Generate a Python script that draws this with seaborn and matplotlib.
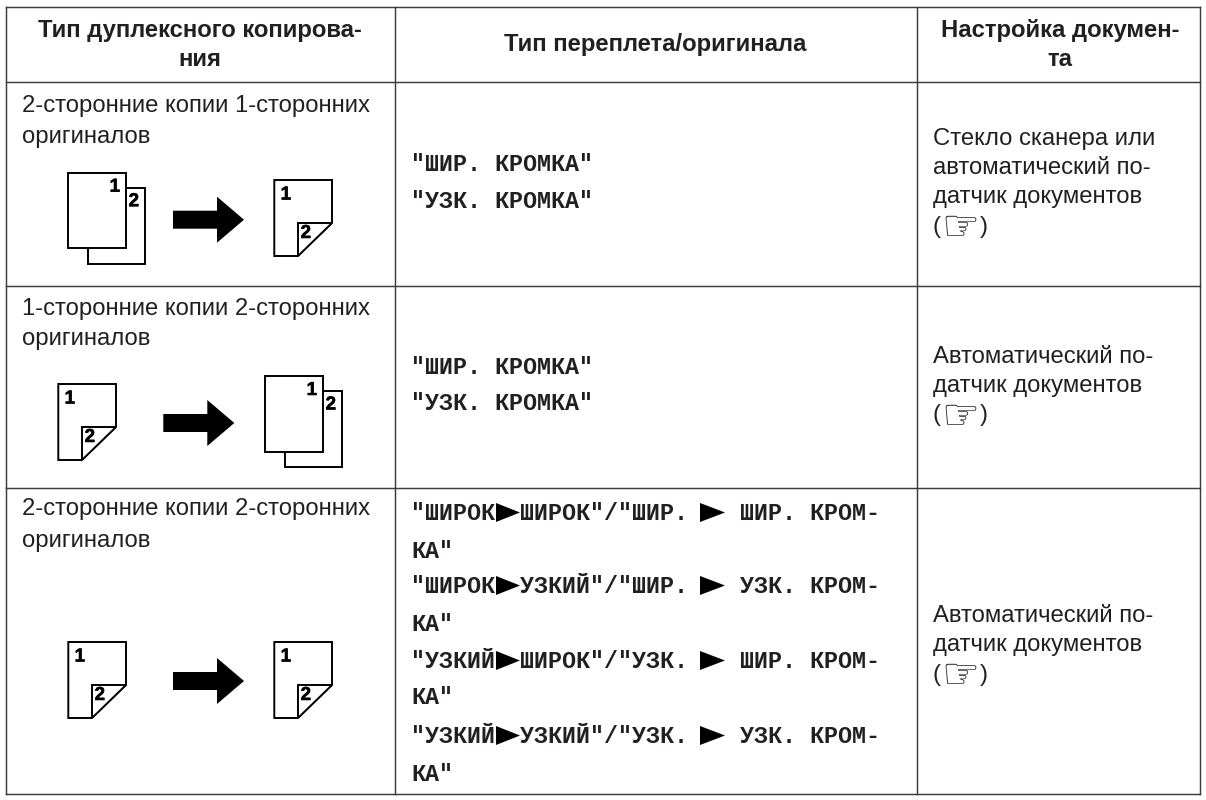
#!/usr/bin/env python3
# -*- coding: utf-8 -*-
# Duplex copy table, redrawn on an axes that counts in image pixels
import pandas as pd
import seaborn as sns
import matplotlib.pyplot as plt
import matplotlib.patheffects as pe

header = ['Тип дуплексного копирова-\nния', 'Тип переплета/оригинала', 'Настройка докумен-\nта']
header_center = [200, 655, 1060]
col_edges = [6, 395, 917, 1200]
row_edges = [7, 81.5, 285.5, 487.5, 794]

# First column: text lines and the baselines they sit on
col1_lines = [['2-сторонние копии 1-сторонних', 'оригиналов'],
              ['1-сторонние копии 2-сторонних', 'оригиналов'],
              ['2-сторонние копии 2-сторонних', 'оригиналов']]
col1_base = [[112, 142.5], [315, 345], [515, 546.5]]

# Second column: each line is cut at the arrows
col2_lines = [[['"ШИР. КРОМКА"'], ['"УЗК. КРОМКА"']],
              [['"ШИР. КРОМКА"'], ['"УЗК. КРОМКА"']],
              [['"ШИРОК', 'ШИРОК"/"ШИР. ', ' ШИР. КРОМ-'], ['КА"'],
               ['"ШИРОК', 'УЗКИЙ"/"ШИР. ', ' УЗК. КРОМ-'], ['КА"'],
               ['"УЗКИЙ', 'ШИРОК"/"УЗК. ', ' ШИР. КРОМ-'], ['КА"'],
               ['"УЗКИЙ', 'УЗКИЙ"/"УЗК. ', ' УЗК. КРОМ-'], ['КА"']]]
col2_base = [[171, 208], [373.5, 410.5],
             [520, 557.5, 593, 631, 668, 704, 743, 781]]

# Third column
col3_lines = [['Стекло сканера или', 'автоматический по-', 'датчик документов', '(☞)'],
              ['Автоматический по-', 'датчик документов', '(☞)'],
              ['Автоматический по-', 'датчик документов', '(☞)']]
col3_base = [[145.5, 174.5, 203.5, 232.5], [363, 392, 421], [622.5, 651.5, 680.5]]

# Pictograms: kind and top-left corner of each sheet, arrows as (left, middle y)
sheets = [('stack', 68.3, 172.7), ('fold', 274.3, 180),
          ('fold', 58.3, 384), ('stack', 265.3, 376),
          ('fold', 68.3, 642), ('fold', 274.3, 642)]
arrows = [(173, 219.7), (163.3, 423), (173, 681)]

INK = '#231f20'
RULE = '#3c3c3c'
SANS = 'Liberation Sans'
MONO = 'Liberation Mono'
BODY = 17.2
MONO_SIZE = 16.85
CHAR = 14.05
LEFT = 411

sns.set_theme(style='white', rc={'font.family': SANS})
fig, ax = plt.subplots(figsize=(12.06, 8), dpi=100)
fig.subplots_adjust(0, 0, 1, 1)
ax.axis('off')

# Table rules
rules = []
for i, y in enumerate(row_edges):
    rules += [{'rule': f'h{i}', 'x': col_edges[0], 'y': y}, {'rule': f'h{i}', 'x': col_edges[-1], 'y': y}]
for i, x in enumerate(col_edges):
    rules += [{'rule': f'v{i}', 'x': x, 'y': row_edges[0]}, {'rule': f'v{i}', 'x': x, 'y': row_edges[-1]}]
sns.lineplot(data=pd.DataFrame(rules), x='x', y='y', units='rule', estimator=None, sort=False,
             color=RULE, linewidth=1.05, ax=ax, legend=False, solid_capstyle='projecting')
ax.set_xlim(0, 1206)
ax.set_ylim(800, 0)

# Header
for i, label in enumerate(header):
    for k, line in enumerate(label.split('\n')):
        y = 37 + k * 29 if label.count('\n') else 51.5
        ax.text(header_center[i], y, line, ha='center', va='baseline',
                fontsize=BODY, fontweight='bold', color=INK)

# Body text
for lines, bases in zip(col1_lines, col1_base):
    for line, y in zip(lines, bases):
        ax.text(22, y, line, va='baseline', fontsize=BODY, color=INK)
for lines, bases in zip(col3_lines, col3_base):
    for line, y in zip(lines, bases):
        if line == '(☞)':
            # the hand in the reference is far bigger than the brackets
            ax.text(932, y, '(', va='baseline', fontsize=BODY, color=INK)
            ax.text(960, y - 5, '☞', ha='center', va='center', fontsize=30.5, color=INK,
                    family='DejaVu Sans')
            ax.text(980, y, ')', va='baseline', fontsize=BODY, color=INK)
        else:
            ax.text(933, y, line, va='baseline', fontsize=BODY, color=INK)


def draw_mark(ax, x0, x1, y):
    ax.fill([x0, x1, x0], [y - 17, y - 7.5, y + 2], color='black', lw=0)


# Binding column, the arrows are wider than one character
for rows, bases in zip(col2_lines, col2_base):
    for parts, y in zip(rows, bases):
        x = LEFT
        for j, part in enumerate(parts):
            ax.text(x, y, part, va='baseline', fontsize=MONO_SIZE, fontweight='bold',
                    family=MONO, color=INK)
            x += len(part) * CHAR
            if j == 0 and len(parts) > 1:
                draw_mark(ax, 496, 520, y)
                x = 520
            elif j == 1:
                draw_mark(ax, 700, 725, y)
                x = 726


def sheet_text(ax, x, y, s):
    ax.text(x, y, s, ha='center', va='center', fontsize=13.5, fontweight='bold', color='black',
            path_effects=[pe.withStroke(linewidth=0.4, foreground='black')])


def draw_stack(ax, x, y):
    # back sheet first, front sheet covers it
    ax.add_patch(plt.Rectangle((x + 19.7, y + 15.3), 57.4, 76, fc='white', ec='black', lw=1.4))
    ax.add_patch(plt.Rectangle((x, y), 57.7, 75.6, fc='white', ec='black', lw=1.4))
    sheet_text(ax, x + 46.5, y + 14.5, '1')
    sheet_text(ax, x + 65.5, y + 29, '2')


def draw_fold(ax, x, y):
    ax.fill([x, x + 57.7, x + 57.7, x + 23.4, x], [y, y, y + 42.7, y + 76, y + 76],
            fc='white', ec='black', lw=1.4)
    ax.fill([x + 23.4, x + 23.4, x + 57.7], [y + 76, y + 42.7, y + 42.7], fc='white', ec='black', lw=1.4)
    sheet_text(ax, x + 11.5, y + 15, '1')
    sheet_text(ax, x + 31.5, y + 53.5, '2')


def draw_arrow(ax, x, y):
    ax.fill([x, x + 44, x + 44, x + 71, x + 44, x + 44, x],
            [y - 9, y - 9, y - 23, y, y + 23, y + 9, y + 9], color='black', lw=0)


for kind, x, y in sheets:
    if kind == 'stack':
        draw_stack(ax, x, y)
    else:
        draw_fold(ax, x, y)
for x, y in arrows:
    draw_arrow(ax, x, y)

fig.savefig('out.png', dpi=100, facecolor='white')
